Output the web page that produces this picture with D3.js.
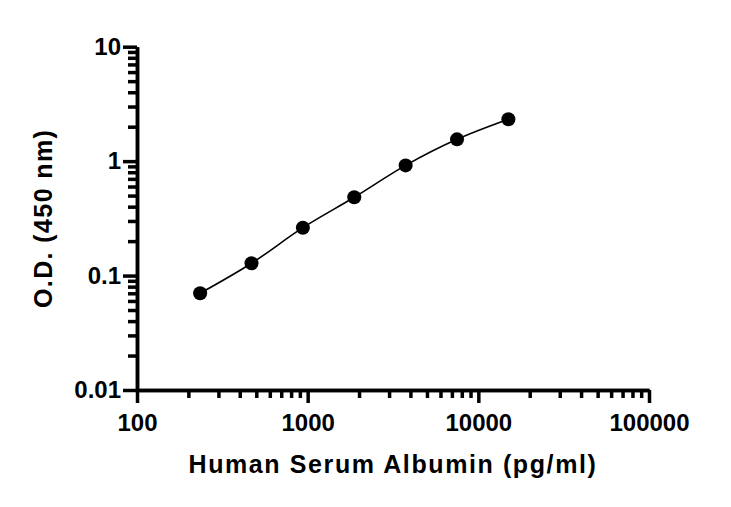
<!DOCTYPE html>
<html>
<head>
<meta charset="utf-8">
<script src="https://cdn.jsdelivr.net/npm/d3@7"></script>
<style>
  body { margin: 0; background: #fff; }
  svg { display: block; font-family: Arial, "Liberation Sans", sans-serif; }
</style>
</head>
<body>
<div id="chart"></div>
<script>
// standard curve
var concentration = [234.4, 468.8, 937.5, 1875, 3750, 7500, 15000];
var odValues = [0.070, 0.128, 0.262, 0.483, 0.918, 1.55, 2.32];
var xTicks = [100, 1000, 10000, 100000];
var xTickLabels = ["100", "1000", "10000", "100000"];
var yTicks = [0.01, 0.1, 1, 10];
var yTickLabels = ["0.01", "0.1", "1", "10"];

var margin = { top: 46.7, right: 82, bottom: 117, left: 137 },
    width = 731 - margin.left - margin.right,
    height = 507 - margin.top - margin.bottom;

var svg = d3.select("#chart")
    .append("svg")
    .attr("width", 731)
    .attr("height", 507)
    .append("g")
    .attr("transform", "translate(" + margin.left + "," + margin.top + ")");

var x = d3.scaleLog().domain([100, 100000]).range([0, width]);
var y = d3.scaleLog().domain([0.01, 10]).range([height, 0]);

// minor ticks 2..9 in every decade
function minors(lo, hi) {
    var out = [];
    for (var d = lo; d < hi; d *= 10) {
        for (var k = 2; k < 10; k++) out.push(d * k);
    }
    return out;
}

// X axis
svg.append("g")
    .attr("transform", "translate(0," + height + ")")
    .call(d3.axisBottom(x).tickValues(minors(100, 100000)).tickSize(8).tickSizeOuter(0).tickFormat(""));
svg.append("g")
    .attr("transform", "translate(0," + height + ")")
    .call(d3.axisBottom(x).tickValues(xTicks).tickSize(13).tickSizeOuter(0)
        .tickPadding(11)
        .tickFormat(function (d, i) { return xTickLabels[i]; }));

// Y axis
svg.append("g")
    .call(d3.axisLeft(y).tickValues(minors(0.01, 10)).tickSize(9).tickSizeOuter(0).tickFormat(""));
svg.append("g")
    .call(d3.axisLeft(y).tickValues(yTicks).tickSize(14).tickSizeOuter(0)
        .tickPadding(2)
        .tickFormat(function (d, i) { return yTickLabels[i]; }));

svg.selectAll(".domain").attr("stroke", "#000").attr("stroke-width", 3.5);
svg.selectAll(".tick line").attr("stroke", "#000").attr("stroke-width", 3.5);
svg.selectAll(".tick text")
    .attr("fill", "#000")
    .style("font-size", "24px")
    .style("font-weight", "bold");

// fitted curve through the standards
var line = d3.line()
    .x(function (d, i) { return x(concentration[i]); })
    .y(function (d) { return y(d); })
    .curve(d3.curveCatmullRom.alpha(0.5));

svg.append("path")
    .datum(odValues)
    .attr("fill", "none")
    .attr("stroke", "#000")
    .attr("stroke-width", 1.6)
    .attr("d", line);

svg.selectAll("circle")
    .data(odValues)
    .enter()
    .append("circle")
    .attr("cx", function (d, i) { return x(concentration[i]); })
    .attr("cy", function (d) { return y(d); })
    .attr("r", 7)
    .attr("fill", "#000");

// axis titles
svg.append("text")
    .attr("x", width / 2)
    .attr("y", 426)
    .attr("text-anchor", "middle")
    .style("font-size", "25px")
    .style("font-weight", "bold")
    .style("letter-spacing", "1.6px")
    .text("Human Serum Albumin (pg/ml)");

svg.append("text")
    .attr("transform", "translate(" + (52.3 - margin.left) + "," + (height / 2) + ")rotate(-90)")
    .attr("text-anchor", "middle")
    .style("font-size", "25px")
    .style("font-weight", "bold")
    .style("letter-spacing", "1.4px")
    .text("O.D. (450 nm)");
</script>
</body>
</html>
